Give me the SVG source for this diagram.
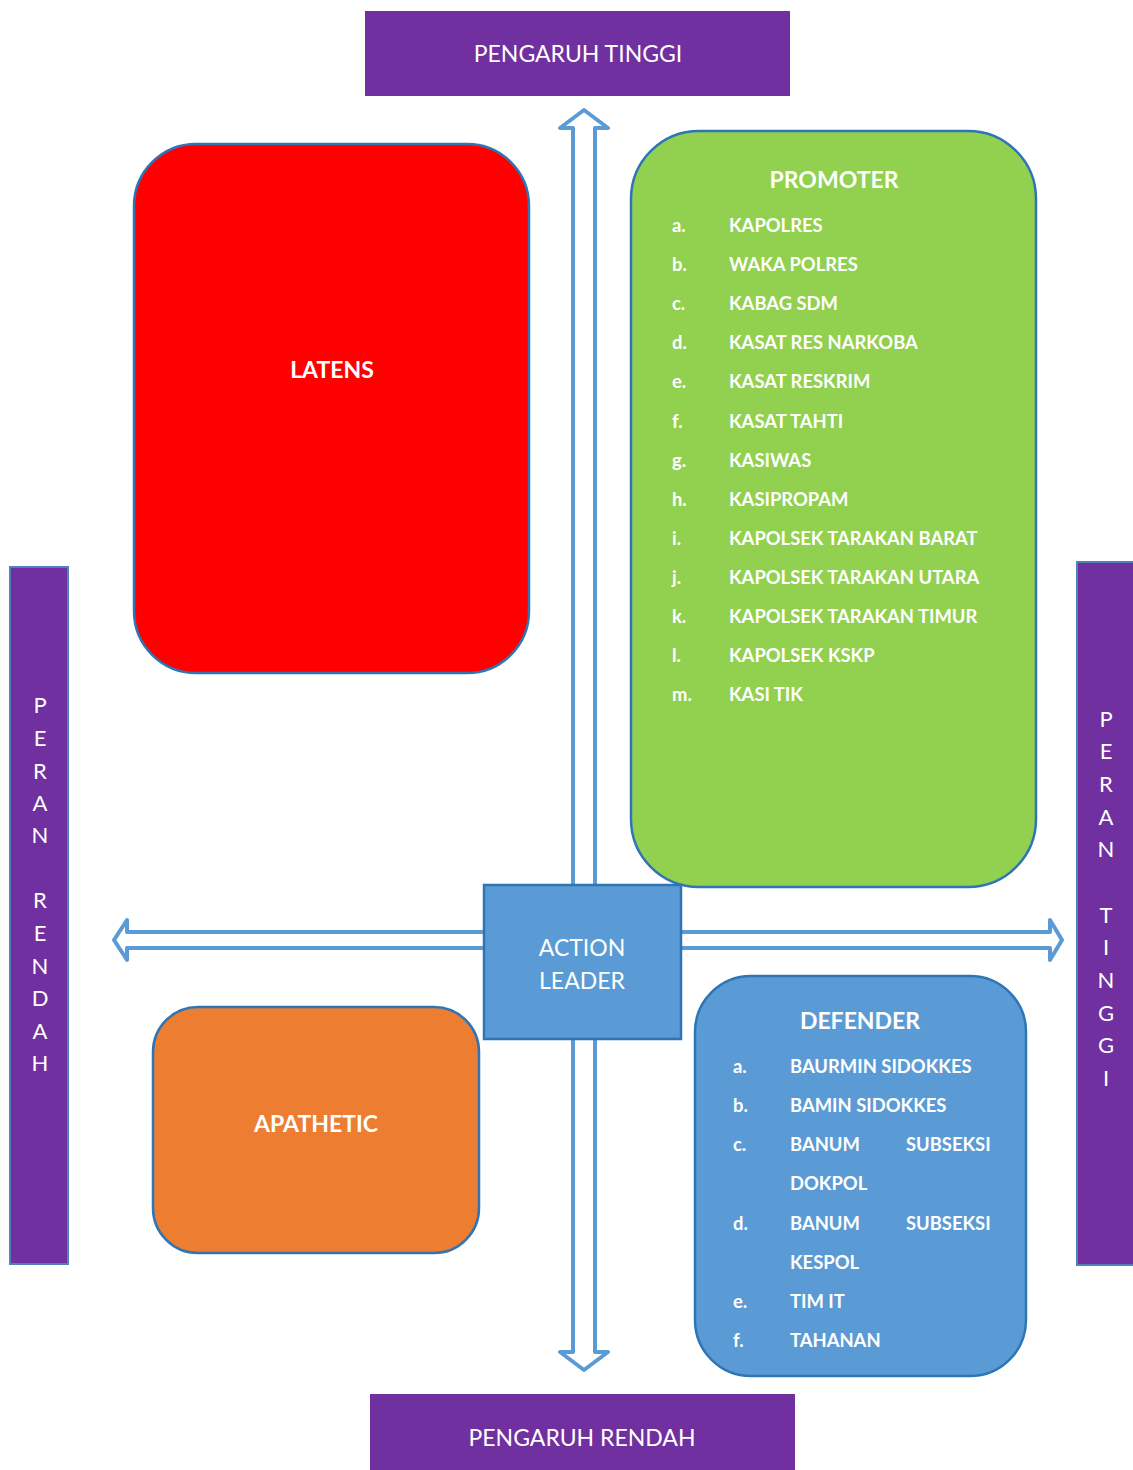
<svg xmlns="http://www.w3.org/2000/svg" width="1133" height="1470" viewBox="0 0 1133 1470">
  <style>
    .banner { fill: #7030a0; }
    .side { fill: #7030a0; stroke: #4f81bd; stroke-width: 2; }
    .bt { font-family: Lato, "Liberation Sans", sans-serif; font-size: 23px; fill: #ffffff; text-anchor: middle; }
    .vt { font-family: Lato, "Liberation Sans", sans-serif; font-size: 22px; fill: #ffffff; text-anchor: middle; }
    .box { stroke: #2e75b6; stroke-width: 2.5; }
    .title { font-family: Lato, "Liberation Sans", sans-serif; font-weight: bold; font-size: 23px; fill: #ffffff; text-anchor: middle; }
    .item { font-family: Lato, "Liberation Sans", sans-serif; font-weight: bold; font-size: 18.4px; fill: #ffffff; }
    .arrow { fill: #ffffff; stroke: #5b9bd5; stroke-width: 4; stroke-linejoin: round; }
  </style>

  <!-- axis arrows -->
  <g id="connectors">
    <path class="arrow" d="M584 110 L608 128 L595 128 L595 1352 L608 1352 L584 1370 L560 1352 L573 1352 L573 128 L560 128 Z"/>
    <path class="arrow" d="M114 940 L127 920 L127 932 L1050 932 L1050 920 L1062 940 L1050 960 L1050 948 L127 948 L127 960 Z"/>
  </g>

  <!-- influence banners -->
  <g id="pengaruh-tinggi">
    <rect class="banner" x="365" y="11" width="425" height="85"/>
    <text class="bt" x="578" y="62">PENGARUH TINGGI</text>
  </g>
  <g id="pengaruh-rendah">
    <rect class="banner" x="370" y="1394" width="425" height="76"/>
    <text class="bt" x="582" y="1446">PENGARUH RENDAH</text>
  </g>

  <!-- role banners -->
  <g id="peran-rendah">
    <rect class="side" x="10" y="567" width="58" height="697"/>
    <g class="vt">
      <text x="40" y="713">P</text>
      <text x="40" y="746">E</text>
      <text x="40" y="779">R</text>
      <text x="40" y="811">A</text>
      <text x="40" y="843">N</text>
      <text x="40" y="908">R</text>
      <text x="40" y="941">E</text>
      <text x="40" y="974">N</text>
      <text x="40" y="1006">D</text>
      <text x="40" y="1039">A</text>
      <text x="40" y="1071">H</text>
    </g>
  </g>
  <g id="peran-tinggi">
    <rect class="side" x="1077" y="562" width="58" height="703"/>
    <g class="vt">
      <text x="1106" y="727">P</text>
      <text x="1106" y="759">E</text>
      <text x="1106" y="792">R</text>
      <text x="1106" y="825">A</text>
      <text x="1106" y="857">N</text>
      <text x="1106" y="923">T</text>
      <text x="1106" y="955">I</text>
      <text x="1106" y="988">N</text>
      <text x="1106" y="1021">G</text>
      <text x="1106" y="1053">G</text>
      <text x="1106" y="1086">I</text>
    </g>
  </g>

  <!-- quadrants -->
  <g id="latens">
    <rect class="box" x="134" y="144" width="395" height="529" rx="62" fill="#ff0000"/>
    <text class="title" x="332" y="378">LATENS</text>
  </g>

  <g id="promoter">
    <rect class="box" x="631" y="131" width="405" height="756" rx="68" fill="#92d050"/>
    <text class="title" x="834" y="188">PROMOTER</text>
    <g class="item">
      <text x="672" y="232">a.</text><text x="729" y="232">KAPOLRES</text>
      <text x="672" y="271">b.</text><text x="729" y="271">WAKA POLRES</text>
      <text x="672" y="310">c.</text><text x="729" y="310">KABAG SDM</text>
      <text x="672" y="349">d.</text><text x="729" y="349">KASAT RES NARKOBA</text>
      <text x="672" y="388">e.</text><text x="729" y="388">KASAT RESKRIM</text>
      <text x="672" y="428">f.</text><text x="729" y="428">KASAT TAHTI</text>
      <text x="672" y="467">g.</text><text x="729" y="467">KASIWAS</text>
      <text x="672" y="506">h.</text><text x="729" y="506">KASIPROPAM</text>
      <text x="672" y="545">i.</text><text x="729" y="545">KAPOLSEK TARAKAN BARAT</text>
      <text x="672" y="584">j.</text><text x="729" y="584">KAPOLSEK TARAKAN UTARA</text>
      <text x="672" y="623">k.</text><text x="729" y="623">KAPOLSEK TARAKAN TIMUR</text>
      <text x="672" y="662">l.</text><text x="729" y="662">KAPOLSEK KSKP</text>
      <text x="672" y="701">m.</text><text x="729" y="701">KASI TIK</text>
    </g>
  </g>

  <g id="apathetic">
    <rect class="box" x="153" y="1007" width="326" height="246" rx="45" fill="#ed7d31"/>
    <text class="title" x="316" y="1132">APATHETIC</text>
  </g>

  <g id="defender">
    <rect class="box" x="695" y="976" width="331" height="400" rx="56" fill="#5b9bd5"/>
    <text class="title" x="860" y="1029">DEFENDER</text>
    <g class="item">
      <text x="733" y="1073">a.</text><text x="790" y="1073">BAURMIN SIDOKKES</text>
      <text x="733" y="1112">b.</text><text x="790" y="1112">BAMIN SIDOKKES</text>
      <text x="733" y="1151">c.</text><text x="790" y="1151">BANUM</text><text x="906" y="1151">SUBSEKSI</text>
      <text x="790" y="1190">DOKPOL</text>
      <text x="733" y="1230">d.</text><text x="790" y="1230">BANUM</text><text x="906" y="1230">SUBSEKSI</text>
      <text x="790" y="1269">KESPOL</text>
      <text x="733" y="1308">e.</text><text x="790" y="1308">TIM IT</text>
      <text x="733" y="1347">f.</text><text x="790" y="1347">TAHANAN</text>
    </g>
  </g>

  <!-- centre -->
  <g id="action-leader">
    <rect x="484" y="885" width="197" height="154" fill="#5b9bd5" stroke="#2e75b6" stroke-width="2.5"/>
    <text class="bt" x="582" y="956" font-size="24">ACTION</text>
    <text class="bt" x="582" y="989" font-size="24">LEADER</text>
  </g>
</svg>
